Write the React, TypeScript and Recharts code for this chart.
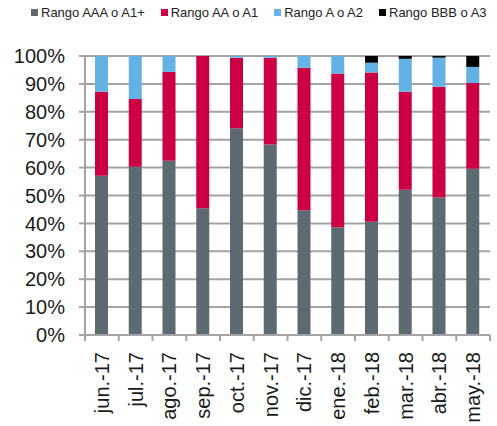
import React from 'react';
import { BarChart, Bar, XAxis, YAxis, CartesianGrid, Legend } from 'recharts';

const months = ['jun.-17', 'jul.-17', 'ago.-17', 'sep.-17', 'oct.-17', 'nov.-17', 'dic.-17', 'ene.-18', 'feb.-18', 'mar.-18', 'abr.-18', 'may.-18'];
const rangoAAA = [57.1, 60.3, 62.5, 45.4, 74.1, 68.3, 44.7, 38.6, 40.6, 52.1, 49.4, 59.6];
const rangoAA = [30.1, 24.3, 31.8, 54.6, 25.3, 31.1, 51.1, 55.1, 53.5, 35.1, 39.6, 30.7];
const rangoA = [12.8, 15.4, 5.7, 0, 0.6, 0.6, 4.2, 6.3, 3.5, 11.8, 10.4, 5.8];
const rangoBBB = [0, 0, 0, 0, 0, 0, 0, 0, 2.4, 1.0, 0.6, 3.9];
const yTicks = [0, 10, 20, 30, 40, 50, 60, 70, 80, 90, 100];

const series = [
    { key: 'aaa', name: 'Rango AAA o A1+', color: '#5e6a72' },
    { key: 'aa', name: 'Rango AA o A1', color: '#cc0044' },
    { key: 'a', name: 'Rango A o A2', color: '#63b1e5' },
    { key: 'bbb', name: 'Rango BBB o A3', color: '#000000' },
];

const data = months.map((m, i) => ({
    month: m,
    aaa: rangoAAA[i],
    aa: rangoAA[i],
    a: rangoA[i],
    bbb: rangoBBB[i],
}));

const FONT = '"Liberation Sans", Arial, sans-serif';
const GRID = '#a3a3a3';
const BAND = (490 - 85) / months.length;

// legend drawn as a simple row, like the excel original
const LegendRow = () => (
    <div style={{ display: 'flex', alignItems: 'center', paddingLeft: 31, fontFamily: FONT, fontSize: 13, color: '#222', whiteSpace: 'nowrap', width: 497, boxSizing: 'border-box' }}>
        {series.map((s) => (
            <div key={s.key} style={{ display: 'flex', alignItems: 'center', marginRight: 16, flexShrink: 0 }}>
                <span style={{ width: 7, height: 7, background: s.color, marginRight: 3, display: 'inline-block' }} />
                <span>{s.name}</span>
            </div>
        ))}
    </div>
);

// rotated month label + tick marks on category boundaries
const MonthTick = (props: any) => {
    const { x, y, payload, index } = props;
    const left = x - BAND / 2;
    const right = x + BAND / 2;
    return (
        <g>
            <line x1={left} y1={y - 8} x2={left} y2={y - 2} stroke={GRID} strokeWidth={2} />
            {index === months.length - 1 && (
                <line x1={right} y1={y - 8} x2={right} y2={y - 2} stroke={GRID} strokeWidth={2} />
            )}
            <text
                x={x}
                y={y + 9}
                transform={`rotate(-90, ${x}, ${y + 9})`}
                textAnchor="end"
                dy="0.35em"
                fill="#1a1a1a"
                fontFamily={FONT}
                fontSize={20}
            >
                {payload.value}
            </text>
        </g>
    );
};

export default function App() {
    return (
        <div style={{ position: 'absolute', left: 0, top: 0, background: '#fff' }}>
            <BarChart width={497} height={426} data={data} margin={{ top: 56, right: 7, bottom: 0, left: 0 }}>
                <CartesianGrid vertical={false} stroke={GRID} strokeWidth={2} />
                <XAxis
                    dataKey="month"
                    interval={0}
                    axisLine={{ stroke: GRID, strokeWidth: 2 }}
                    tickLine={false}
                    tick={<MonthTick />}
                    height={91}
                />
                <YAxis
                    domain={[0, 100]}
                    ticks={yTicks}
                    interval={0}
                    width={85}
                    axisLine={{ stroke: GRID, strokeWidth: 2 }}
                    tickLine={{ stroke: GRID, strokeWidth: 2 }}
                    tickSize={6}
                    tickMargin={14}
                    tickFormatter={(v) => `${v}%`}
                    tick={{ fill: '#1a1a1a', fontSize: 20, fontFamily: FONT }}
                />
                <Legend
                    verticalAlign="middle"
                    layout="horizontal"
                    content={<LegendRow />}
                    wrapperStyle={{ top: 5, left: 0, width: 497 }}
                />
                {series.map((s) => (
                    <Bar key={s.key} dataKey={s.key} name={s.name} stackId="r" fill={s.color} barSize={13} isAnimationActive={false} />
                ))}
            </BarChart>
        </div>
    );
}
